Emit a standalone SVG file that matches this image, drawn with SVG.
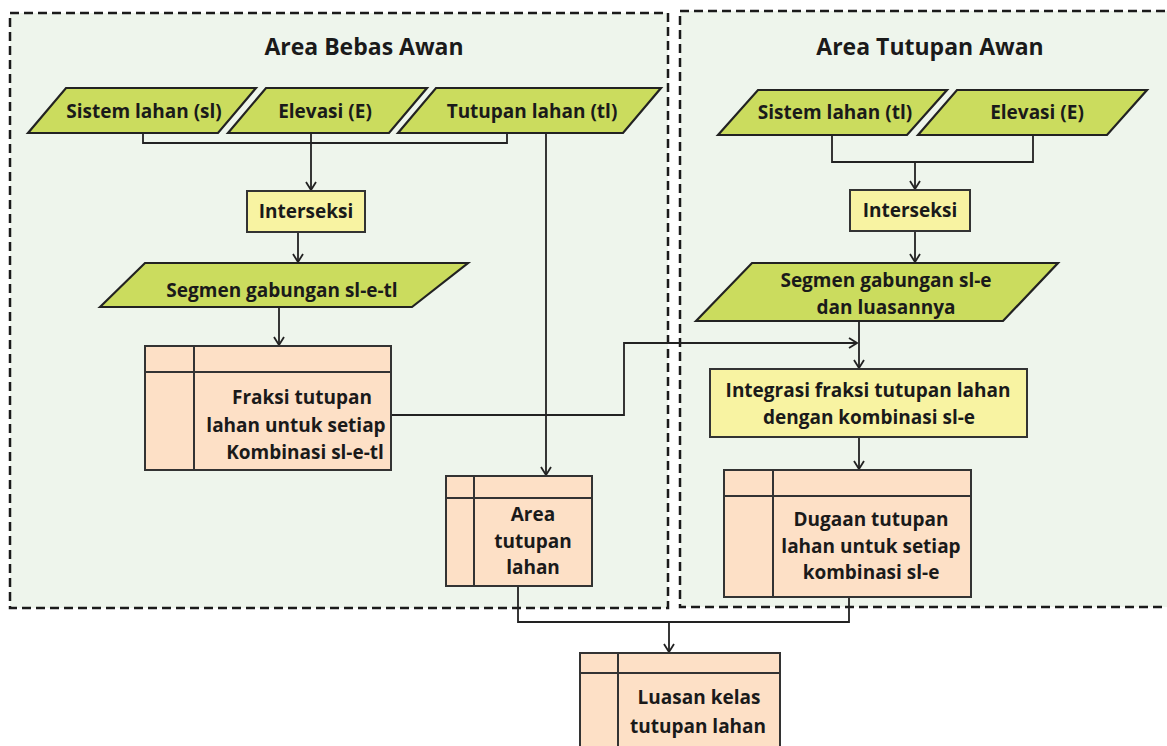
<svg xmlns="http://www.w3.org/2000/svg" width="1167" height="746" viewBox="0 0 1167 746">
<defs>
<style>
.region{fill:#eef5ec;stroke:#1a1a1a;stroke-width:2.5;stroke-dasharray:9,5}
.para{fill:#cbdc5e;stroke:#222;stroke-width:2.2}
.proc{fill:#f8f3a2;stroke:#333;stroke-width:2}
.store{fill:#fde0c6;stroke:#333;stroke-width:2}
.div{stroke:#333;stroke-width:2;fill:none}
.t{font-family:"Open Sans","Liberation Sans",sans-serif;font-weight:bold;font-size:19px;fill:#1a1a1a;text-anchor:middle}
.title{font-family:"Open Sans","Liberation Sans",sans-serif;font-weight:bold;font-size:23px;fill:#1a1a1a;text-anchor:middle}
.c{fill:none;stroke:#222;stroke-width:1.8}
</style>
<marker id="arr" viewBox="0 0 12 12" refX="11" refY="6" markerWidth="12" markerHeight="12" markerUnits="userSpaceOnUse" orient="auto">
<path d="M3,1 L11,6 L3,11" fill="none" stroke="#222" stroke-width="1.8"/>
</marker>
</defs>
<rect width="1167" height="746" fill="#ffffff"/>
<g id="region-bebas">
<rect class="region" x="10" y="13" width="658" height="595"/>
<text class="title" x="364" y="55">Area Bebas Awan</text>
</g>
<g id="region-tutupan">
<rect class="region" x="680" y="11" width="510" height="596"/>
<text class="title" x="930" y="55">Area Tutupan Awan</text>
</g>
<g id="connectors">
<path class="c" d="M143,133 V143 H507 V133"/>
<path class="c" d="M311,133 V190" marker-end="url(#arr)"/>
<path class="c" d="M298,232 V262" marker-end="url(#arr)"/>
<path class="c" d="M279,307 V345" marker-end="url(#arr)"/>
<path class="c" d="M546,133 V475" marker-end="url(#arr)"/>
<path class="c" d="M391,415 H624 V343 H857" marker-end="url(#arr)"/>
<path class="c" d="M832,135 V162 H1033 V135"/>
<path class="c" d="M915,162 V189" marker-end="url(#arr)"/>
<path class="c" d="M915,231 V262" marker-end="url(#arr)"/>
<path class="c" d="M859,321 V368" marker-end="url(#arr)"/>
<path class="c" d="M859,437 V469" marker-end="url(#arr)"/>
<path class="c" d="M518,586 V622 H849 V597"/>
<path class="c" d="M669,622 V652" marker-end="url(#arr)"/>
</g>
<g id="sistem-lahan-sl">
<polygon class="para" points="28,133 66,88 256,88 218,133"/>
<text class="t" x="144" y="118">Sistem lahan (sl)</text>
</g>
<g id="elevasi-l">
<polygon class="para" points="228,133 266,88 427,88 389,133"/>
<text class="t" x="325" y="118">Elevasi (E)</text>
</g>
<g id="tutupan-lahan">
<polygon class="para" points="398,133 436,88 661,88 623,133"/>
<text class="t" x="532" y="118">Tutupan lahan (tl)</text>
</g>
<g id="interseksi-l">
<rect class="proc" x="247" y="191" width="118" height="41"/>
<text class="t" x="306" y="218">Interseksi</text>
</g>
<g id="segmen-l">
<polygon class="para" points="100,307 145,263 468,263 412,307"/>
<text class="t" x="282" y="297">Segmen gabungan sl-e-tl</text>
</g>
<g id="fraksi">
<rect class="store" x="145" y="346" width="246" height="124"/>
<path class="div" d="M194,346 V470 M145,372 H391"/>
<text class="t" x="302" y="404">Fraksi tutupan</text>
<text class="t" x="296" y="432">lahan untuk setiap</text>
<text class="t" x="305" y="459">Kombinasi sl-e-tl</text>
</g>
<g id="area-tutupan">
<rect class="store" x="446" y="476" width="146" height="110"/>
<path class="div" d="M474,476 V586 M446,498 H592"/>
<text class="t" x="533" y="521">Area</text>
<text class="t" x="533" y="548">tutupan</text>
<text class="t" x="533" y="574">lahan</text>
</g>
<g id="sistem-lahan-tl">
<polygon class="para" points="718,135 758,90 947,90 907,135"/>
<text class="t" x="835" y="119">Sistem lahan (tl)</text>
</g>
<g id="elevasi-r">
<polygon class="para" points="918,135 957,90 1147,90 1107,135"/>
<text class="t" x="1037" y="119">Elevasi (E)</text>
</g>
<g id="interseksi-r">
<rect class="proc" x="850" y="190" width="120" height="41"/>
<text class="t" x="910" y="217">Interseksi</text>
</g>
<g id="segmen-r">
<polygon class="para" points="696,321 752,263 1058,263 1003,321"/>
<text class="t" x="886" y="287">Segmen gabungan sl-e</text>
<text class="t" x="886" y="314">dan luasannya</text>
</g>
<g id="integrasi">
<rect class="proc" x="710" y="369" width="317" height="68"/>
<text class="t" x="868" y="397">Integrasi fraksi tutupan lahan</text>
<text class="t" x="869" y="424">dengan kombinasi sl-e</text>
</g>
<g id="dugaan">
<rect class="store" x="724" y="470" width="247" height="127"/>
<path class="div" d="M773,470 V597 M724,496 H971"/>
<text class="t" x="871" y="526">Dugaan tutupan</text>
<text class="t" x="871" y="553">lahan untuk setiap</text>
<text class="t" x="871" y="579">kombinasi sl-e</text>
</g>
<g id="luasan">
<rect class="store" x="580" y="653" width="200" height="110"/>
<path class="div" d="M618,653 V763 M580,673 H780"/>
<text class="t" x="699" y="704">Luasan kelas</text>
<text class="t" x="698" y="733">tutupan lahan</text>
</g>
</svg>
